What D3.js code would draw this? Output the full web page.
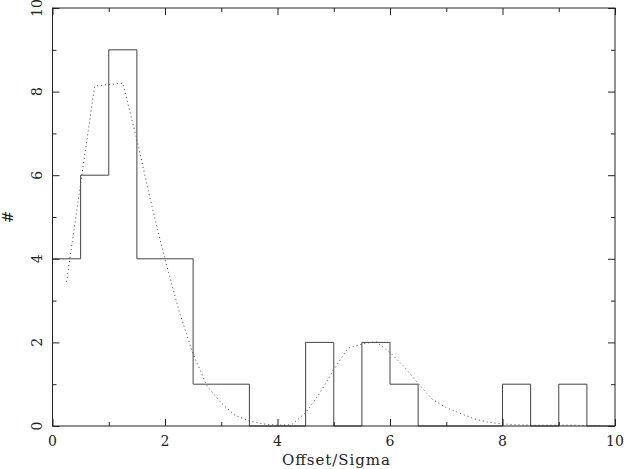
<!DOCTYPE html>
<html><head><meta charset="utf-8">
<script src="https://cdn.jsdelivr.net/npm/d3@7"></script>
<style>body{margin:0;background:#fff}svg{display:block}</style>
</head><body>
<script>
const binEdges = [0,0.5,1,1.5,2,2.5,3,3.5,4,4.5,5,5.5,6,6.5,7,7.5,8,8.5,9,9.5,10];
const binCounts = [4,6,9,4,4,1,1,0,0,2,0,2,1,0,0,0,1,0,1,0];
const curveX = [0.25,0.5,0.75,1,1.25,1.5,1.75,2,2.25,2.5,2.75,3,3.25,3.5,3.75,4,4.25,4.5,4.75,5,5.25,5.5,5.75,6,6.25,6.5,6.75,7,7.25,7.5,7.75,8,8.25,8.5,8.75,9,9.25,9.5,9.75];
const curveY = [3.45,5.8,8.13,8.17,8.2,6.85,5.35,3.99,2.75,1.72,0.95,0.55,0.25,0.12,0.05,0.02,0.03,0.32,0.78,1.35,1.86,1.96,2.02,1.76,1.42,1.02,0.64,0.44,0.3,0.17,0.09,0.05,0.03,0.02,0.02,0.02,0.02,0.01,0.01];
const majorTicks = [0,2,4,6,8,10];
const minorTicks = [1,3,5,7,9];
const xTitle = "Offset/Sigma";
const yTitle = "#";

const W=624,H=469;
const svg=d3.select("body").append("svg").attr("width",W).attr("height",H);
const x=d3.scaleLinear().domain([0,10]).range([52.5,615]);
const y=d3.scaleLinear().domain([0,10]).range([426,8]);
const ink="#222";
const font="DejaVu Serif";

// histogram step outline
const stepPts = binEdges.map((e,i)=>[e, i<binCounts.length?binCounts[i]:0]);
svg.append("path")
  .attr("d", d3.line().x(d=>x(d[0])).y(d=>y(d[1])).curve(d3.curveStepAfter)(stepPts))
  .attr("fill","none").attr("stroke","#444").attr("stroke-width",1);

// dotted curve
svg.append("path")
  .attr("d", d3.line().x(d=>x(d[0])).y(d=>y(d[1]))(curveX.map((v,i)=>[v,curveY[i]])))
  .attr("fill","none").attr("stroke","#444").attr("stroke-width",1)
  .attr("stroke-dasharray","1,3");

// frame
svg.append("rect").attr("x",x(0)).attr("y",y(10)).attr("width",x(10)-x(0)).attr("height",y(0)-y(10))
  .attr("fill","none").attr("stroke",ink).attr("stroke-width",1);

// axes with inward ticks on all sides
function ticks(axisGen, tr, vals, size){
  svg.append("g").attr("transform",tr).call(axisGen.tickValues(vals).tickSize(size).tickFormat(""))
    .call(g=>{g.select(".domain").remove(); g.selectAll("line").attr("stroke",ink);});
}
ticks(d3.axisTop(x), `translate(0,${y(0)})`, majorTicks, 7);
ticks(d3.axisTop(x), `translate(0,${y(0)})`, minorTicks, 4);
ticks(d3.axisBottom(x), `translate(0,${y(10)})`, majorTicks, 7);
ticks(d3.axisBottom(x), `translate(0,${y(10)})`, minorTicks, 4);
ticks(d3.axisRight(y), `translate(${x(0)},0)`, majorTicks, 7);
ticks(d3.axisRight(y), `translate(${x(0)},0)`, minorTicks, 4);
ticks(d3.axisLeft(y), `translate(${x(10)},0)`, majorTicks, 7);
ticks(d3.axisLeft(y), `translate(${x(10)},0)`, minorTicks, 4);

// x tick labels
svg.append("g").selectAll("text").data(majorTicks).join("text")
  .attr("x",d=>x(d)).attr("y",446).attr("text-anchor","middle")
  .attr("font-family",font).attr("font-size",14).attr("fill",ink).text(d=>d);
// y tick labels rotated
svg.append("g").selectAll("text").data(majorTicks).join("text")
  .attr("transform",d=>`translate(42,${y(d)}) rotate(-90)`).attr("text-anchor","middle")
  .attr("font-family",font).attr("font-size",14).attr("fill",ink).text(d=>d);

svg.append("text").attr("x",282).attr("y",465)
  .attr("textLength",108).attr("lengthAdjust","spacing")
  .attr("font-family",font).attr("font-size",15).attr("fill",ink).text(xTitle);
svg.append("text").attr("transform",`translate(13,217) rotate(-90)`).attr("text-anchor","middle")
  .attr("font-family",font).attr("font-size",15).attr("fill",ink).text(yTitle);
</script>
</body></html>
